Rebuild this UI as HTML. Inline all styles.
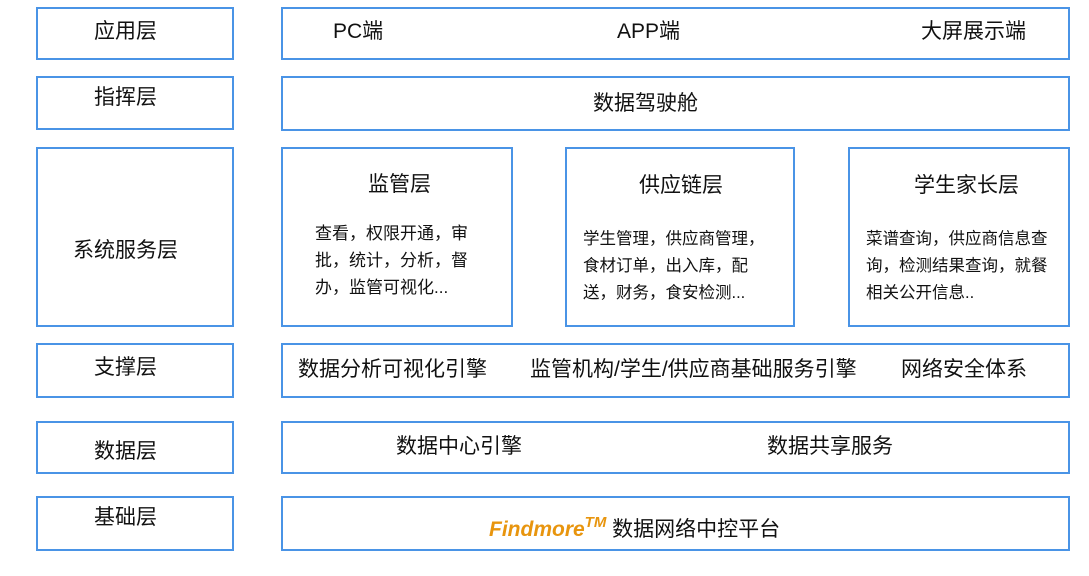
<!DOCTYPE html>
<html><head><meta charset="utf-8"><style>
body{margin:0;width:1089px;height:576px;background:#fff;position:relative;overflow:hidden;font-family:"Liberation Sans","Noto Sans CJK SC",sans-serif;color:#111}
.b{position:absolute;border:2px solid #4a94e6;box-sizing:border-box}
.t{position:absolute;white-space:nowrap;font-size:21px;line-height:1}
.s{position:absolute;font-size:17px;line-height:27px;white-space:nowrap}
</style></head><body>
<div class="b" style="left:36px;top:7px;width:198px;height:53px"></div>
<div class="b" style="left:36px;top:76px;width:198px;height:54px"></div>
<div class="b" style="left:36px;top:147px;width:198px;height:180px"></div>
<div class="b" style="left:36px;top:343px;width:198px;height:55px"></div>
<div class="b" style="left:36px;top:421px;width:198px;height:53px"></div>
<div class="b" style="left:36px;top:496px;width:198px;height:55px"></div>
<div class="b" style="left:281px;top:7px;width:789px;height:53px"></div>
<div class="b" style="left:281px;top:76px;width:789px;height:55px"></div>
<div class="b" style="left:281px;top:147px;width:232px;height:180px"></div>
<div class="b" style="left:565px;top:147px;width:230px;height:180px"></div>
<div class="b" style="left:848px;top:147px;width:222px;height:180px"></div>
<div class="b" style="left:281px;top:343px;width:789px;height:55px"></div>
<div class="b" style="left:281px;top:421px;width:789px;height:53px"></div>
<div class="b" style="left:281px;top:496px;width:789px;height:55px"></div>

<div class="t" style="left:94px;top:21px">应用层</div>
<div class="t" style="left:94px;top:87px">指挥层</div>
<div class="t" style="left:73px;top:240px">系统服务层</div>
<div class="t" style="left:94px;top:357px">支撑层</div>
<div class="t" style="left:94px;top:441px">数据层</div>
<div class="t" style="left:94px;top:507px">基础层</div>

<div class="t" style="left:333px;top:21px">PC端</div>
<div class="t" style="left:617px;top:21px">APP端</div>
<div class="t" style="left:921px;top:21px">大屏展示端</div>
<div class="t" style="left:593px;top:93px">数据驾驶舱</div>

<div class="t" style="left:368px;top:174px">监管层</div>
<div class="s" style="left:315px;top:220px">查看，权限开通，审<br>批，统计，分析，督<br>办，监管可视化...</div>
<div class="t" style="left:639px;top:175px">供应链层</div>
<div class="s" style="left:583px;top:226px;font-size:16.5px">学生管理，供应商管理，<br>食材订单，出入库，配<br>送，财务，食安检测...</div>
<div class="t" style="left:914px;top:175px">学生家长层</div>
<div class="s" style="left:866px;top:226px;font-size:16.5px">菜谱查询，供应商信息查<br>询，检测结果查询，就餐<br>相关公开信息..</div>

<div class="t" style="left:298px;top:359px">数据分析可视化引擎</div>
<div class="t" style="left:530px;top:359px">监管机构/学生/供应商基础服务引擎</div>
<div class="t" style="left:901px;top:359px">网络安全体系</div>
<div class="t" style="left:396px;top:436px">数据中心引擎</div>
<div class="t" style="left:767px;top:436px">数据共享服务</div>

<div class="t" style="left:489px;top:515px"><span style="color:#e8950e;font-weight:bold;font-style:italic">Findmore<sup style="font-size:15px;vertical-align:9px">TM</sup></span> 数据网络中控平台</div>
</body></html>
